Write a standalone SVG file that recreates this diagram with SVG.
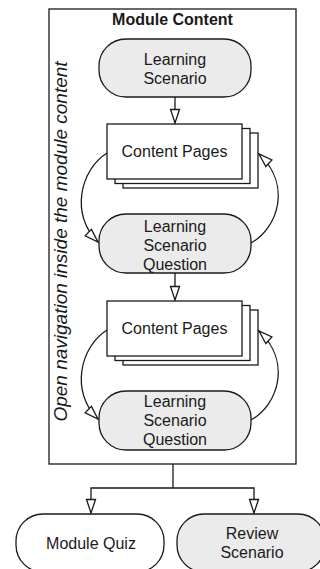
<svg xmlns="http://www.w3.org/2000/svg" width="320" height="569" viewBox="0 0 320 569">
<style>
.t{font-family:"Liberation Sans",Arial,sans-serif;font-size:16px;fill:#1a1a1a;text-anchor:middle}
.b{font-weight:bold}
.pill{stroke:#1a1a1a;stroke-width:1.3}
.g{fill:#ebebeb}
.w{fill:#fff}
.pg{fill:#fff;stroke:#1a1a1a;stroke-width:1.3}
.c{fill:none;stroke:#1a1a1a;stroke-width:1.3}
</style>
<defs>
<marker id="ah" markerUnits="userSpaceOnUse" markerWidth="16" markerHeight="12" refX="14" refY="5" orient="auto" overflow="visible">
<path d="M0.5,0.5 L14,5 L0.5,9.5 Z" fill="#fff" stroke="#1a1a1a" stroke-width="1.3"/>
</marker>
</defs>
<rect width="320" height="569" fill="#fff"/>
<g id="module-content">
<rect x="49" y="9" width="247" height="455" fill="#fff" stroke="#1a1a1a" stroke-width="1.3"/>
<text class="t b" x="172.5" y="25">Module Content</text>
<text class="t" font-style="italic" font-size="19" transform="translate(66.5,241.5) rotate(-90)" style="font-size:19px">Open navigation inside the module content</text>
</g>
<g id="learning-scenario">
<rect class="pill g" x="99" y="39" width="152" height="58" rx="27" ry="27"/>
<text class="t" x="175" y="65">Learning</text>
<text class="t" x="175" y="84">Scenario</text>
</g>
<g id="content-pages-1">
<rect class="pg" x="123" y="133" width="135" height="55"/>
<rect class="pg" x="115" y="128.5" width="135" height="55"/>
<rect class="pg" x="107" y="124" width="135" height="55"/>
<text class="t" x="174.5" y="157">Content Pages</text>
</g>
<g id="question-1">
<rect class="pill g" x="99" y="214" width="152" height="59" rx="27" ry="27"/>
<text class="t" x="175" y="232">Learning</text>
<text class="t" x="175" y="251">Scenario</text>
<text class="t" x="175" y="270">Question</text>
</g>
<g id="content-pages-2">
<rect class="pg" x="123" y="310" width="135" height="55"/>
<rect class="pg" x="115" y="305.5" width="135" height="55"/>
<rect class="pg" x="107" y="301" width="135" height="55"/>
<text class="t" x="174.5" y="334">Content Pages</text>
</g>
<g id="question-2">
<rect class="pill g" x="99" y="391" width="152" height="59" rx="27" ry="27"/>
<text class="t" x="175" y="407">Learning</text>
<text class="t" x="175" y="426">Scenario</text>
<text class="t" x="175" y="445">Question</text>
</g>
<g id="module-quiz">
<rect class="pill w" x="16" y="514" width="148" height="58" rx="27" ry="27"/>
<text class="t" x="91" y="549">Module Quiz</text>
</g>
<g id="review-scenario">
<rect class="pill g" x="177" y="514" width="148" height="58" rx="27" ry="27"/>
<text class="t" x="252" y="539">Review</text>
<text class="t" x="252" y="558">Scenario</text>
</g>
<g id="connectors">
<path class="c" d="M175,97 V123" marker-end="url(#ah)"/>
<path class="c" d="M107,153 C80,170 70,215 98,242" marker-end="url(#ah)"/>
<path class="c" d="M251,243 C278,228 292,185 259,154" marker-end="url(#ah)"/>
<path class="c" d="M175,273 V300" marker-end="url(#ah)"/>
<path class="c" d="M107,330 C80,347 70,392 98,419" marker-end="url(#ah)"/>
<path class="c" d="M251,420 C278,405 292,362 259,331" marker-end="url(#ah)"/>
<path class="c" d="M173,464 V488"/>
<path class="c" d="M173,488 H91 V513" marker-end="url(#ah)"/>
<path class="c" d="M173,488 H254 V513" marker-end="url(#ah)"/>
</g>
</svg>
